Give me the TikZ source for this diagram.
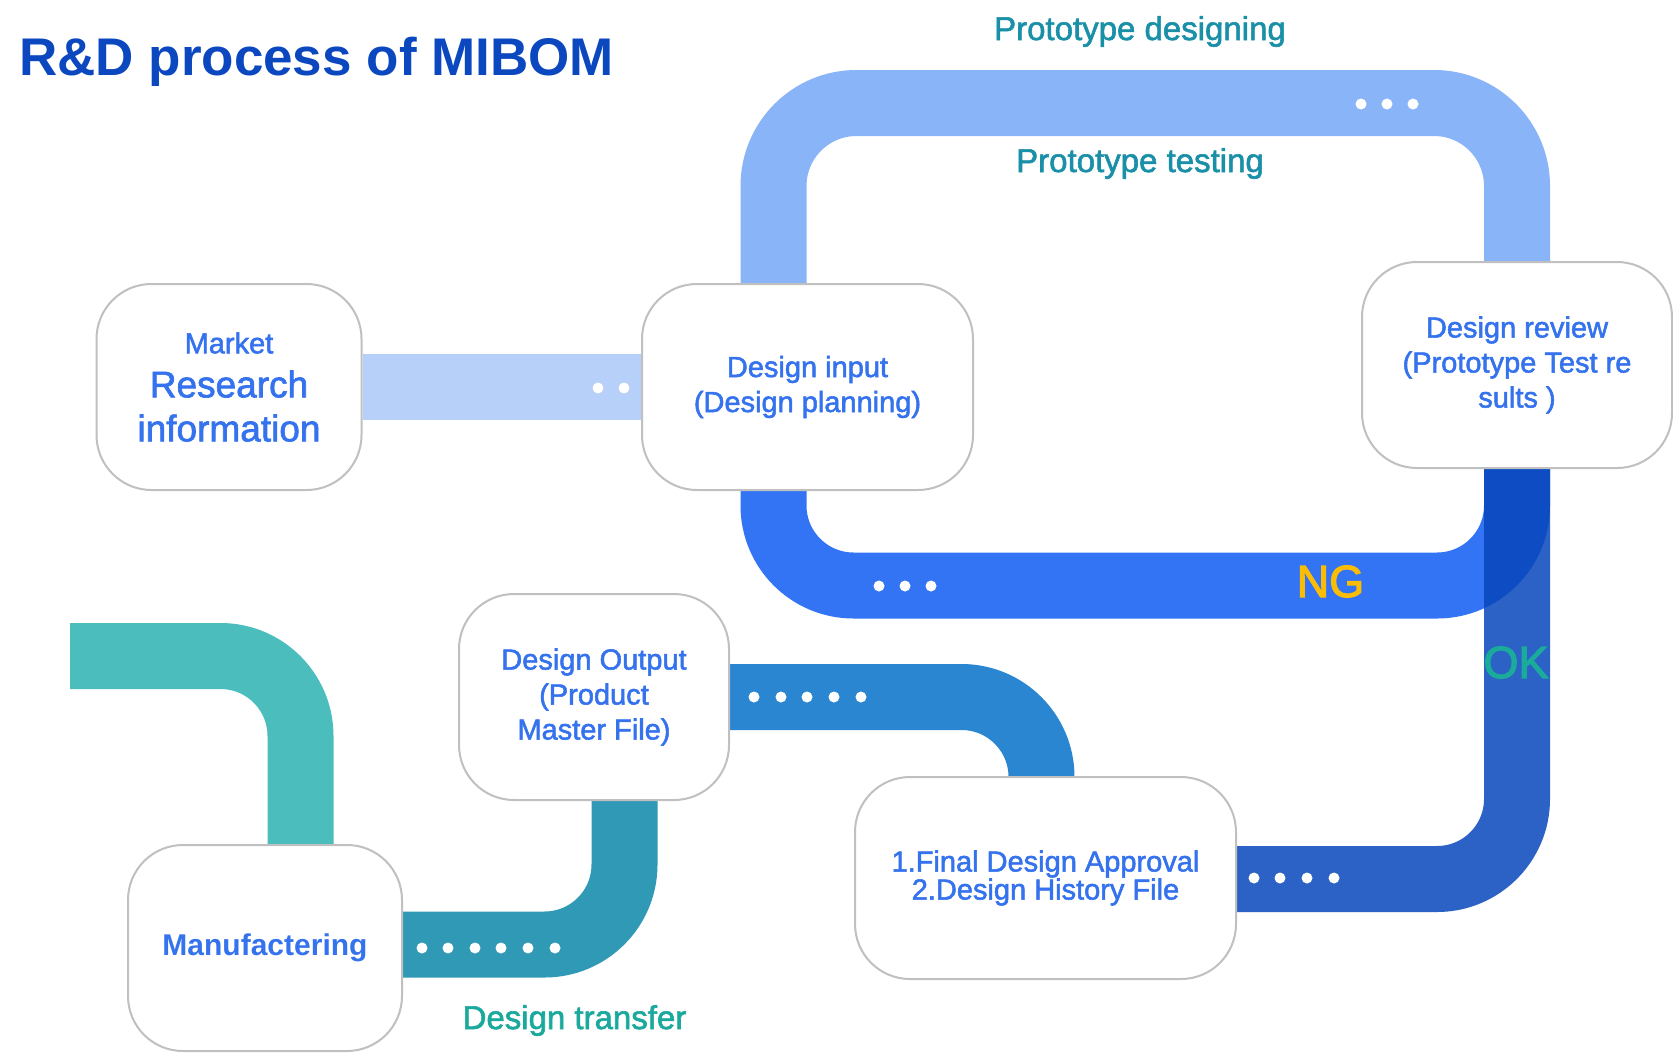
\documentclass[tikz,border=0pt]{standalone}
\usepackage{fontspec}
\setmainfont{Liberation Sans}
\newfontfamily\medf{Liberation Sans}[FakeBold=1.8]
\newfontfamily\semf{Liberation Sans}[FakeBold=2.6]
\newcommand\fs[2]{\fontsize{#1}{#2}\selectfont}
\definecolor{titleblue}{HTML}{0B47BF}
\definecolor{boxtext}{HTML}{3572EE}
\definecolor{boxgray}{HTML}{C0C0C0}
\definecolor{protocol}{HTML}{1A90A8}
\definecolor{transcol}{HTML}{1AA99C}
\definecolor{ngcol}{HTML}{FBBC05}
\definecolor{okcol}{HTML}{1AAB9B}
\definecolor{bandmarket}{HTML}{B7D0F9}
\definecolor{bandtop}{HTML}{8AB4F8}
\definecolor{bandng}{HTML}{3374F4}
\definecolor{bandok}{HTML}{0846BC}
\definecolor{bandout}{HTML}{2A86D0}
\definecolor{bandtrans}{HTML}{3099B5}
\definecolor{bandtl}{HTML}{4BBDBC}
\pgfdeclarelayer{bg}
\pgfdeclarelayer{bands}
\pgfsetlayers{bg,bands,main}
\begin{document}
\begin{tikzpicture}[x=1pt,y=-1pt,
  box/.style={draw=boxgray, line width=2pt, fill=white, rounded corners=55pt,
    inner sep=0pt, align=center, text=boxtext, font=\medf\fs{29}{35}},
  band/.style={line width=66pt, line cap=butt},
  lbl/.style={inner sep=0pt, anchor=base}]
\begin{pgfonlayer}{bg}
\fill[white] (0,0) rectangle (1673,1061);
\end{pgfonlayer}
\useasboundingbox (0,0) rectangle (1673,1061);

% title
\node[lbl, anchor=base west, text=titleblue, font=\bfseries\fs{53}{60}] (title) at (19,75) {R\&D process of MIBOM};

% boxes
\node[box, minimum width=265pt, minimum height=206pt, font=\medf\fs{37}{44}] (market) at (229,387)
  {{\fs{29}{35}Market}\\Research\\information};
\node[box, minimum width=331pt, minimum height=206pt] (input) at (807.5,387)
  {Design input\\(Design planning)};
\node[box, minimum width=310pt, minimum height=206pt] (review) at (1517,365)
  {Design review\\(Prototype Test re\\sults )};
\node[box, minimum width=270pt, minimum height=206pt] (output) at (594,697)
  {Design Output\\(Product\\Master File)};
\node[box, minimum width=381pt, minimum height=202pt, font=\medf\fs{29}{28}] (final) at (1045.5,878)
  {1.Final Design Approval\\2.Design History File};
\node[box, minimum width=274pt, minimum height=206pt, font=\bfseries\fs{30}{36}] (manuf) at (265,948)
  {Manufactering};

\coordinate (topy) at (0,103);
\coordinate (ngy) at (0,585.5);
\coordinate (tlstart) at (70,656);

\begin{pgfonlayer}{bands}
\draw[band, bandmarket] (market.east) -- (input.west);
\draw[band, bandtop, rounded corners=83pt] ([xshift=-34pt]input.north) |- (review.north |- topy) -- (review.north);
\draw[band, bandng, rounded corners=80pt] ([xshift=-34pt]input.south) |- (review.south |- ngy) -- (review.south);
\draw[band, bandok, opacity=0.85, rounded corners=80pt] (review.south) |- ([yshift=-1pt]final.east);
\draw[band, bandout, rounded corners=80pt] (output.east) -| ([xshift=-4pt]final.north);
\draw[band, bandtrans, rounded corners=80pt] ([xshift=30.5pt]output.south) |- ([yshift=3.5pt]manuf.east);
\draw[band, bandtl, rounded corners=80pt] (tlstart) -| ([xshift=35.5pt]manuf.north);
% dots
\foreach \x in {598,624} \fill[white] (\x,388) circle (5.5pt);
\foreach \x in {1361,1387,1413} \fill[white] (\x,104) circle (5.5pt);
\foreach \x in {879,905,931} \fill[white] (\x,586) circle (5.5pt);
\foreach \x in {754,781,807,834,861} \fill[white] (\x,697) circle (5.5pt);
\foreach \x in {1254,1280,1307,1334} \fill[white] (\x,878) circle (5.5pt);
\foreach \x in {422,448,475,501,528,555} \fill[white] (\x,948) circle (5.5pt);
\end{pgfonlayer}

% labels
\node[lbl, text=protocol, font=\medf\fs{33}{40}] (pdes) at (1140,40) {Prototype designing};
\node[lbl, text=protocol, font=\medf\fs{33}{40}] (ptest) at (1140,172) {Prototype testing};
\node[lbl, text=transcol, font=\medf\fs{33}{40}] (dtrans) at (574.5,1029) {Design transfer};
\node[lbl, text=ngcol, font=\semf\fs{45}{50}] (ng) at (1330.5,597) {NG};
\node[lbl, text=okcol, font=\semf\fs{45}{50}] (ok) at (1516,678) {OK};
\end{tikzpicture}
\end{document}
